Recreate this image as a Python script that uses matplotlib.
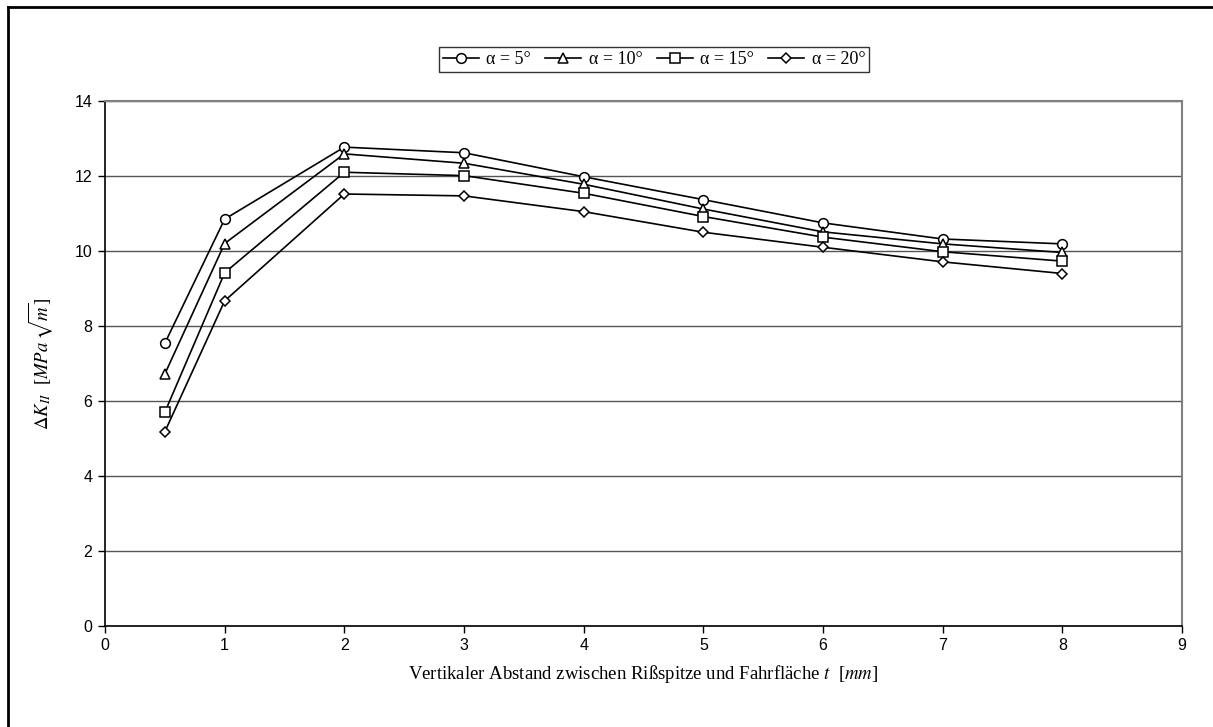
import matplotlib
matplotlib.use("Agg")
import matplotlib.pyplot as plt
from matplotlib.lines import Line2D

plt.rcParams['mathtext.fontset'] = 'stix'

t = [0.5, 1, 2, 3, 4, 5, 6, 7, 8]
k_5 = [7.54, 10.85, 12.77, 12.62, 11.98, 11.37, 10.75, 10.32, 10.19]
k_10 = [6.72, 10.20, 12.59, 12.34, 11.78, 11.12, 10.51, 10.19, 9.96]
k_15 = [5.70, 9.42, 12.10, 12.01, 11.54, 10.92, 10.37, 9.98, 9.73]
k_20 = [5.18, 8.67, 11.52, 11.47, 11.05, 10.50, 10.10, 9.71, 9.40]
labels = ['α = 5°', 'α = 10°', 'α = 15°', 'α = 20°']
markers = ['o', '^', 's', 'D']
msizes = [7, 7, 7, 5]

W, H = 1213, 727
fig = plt.figure(figsize=(W / 100, H / 100), dpi=100)
fig.patch.set_facecolor('white')

ax = fig.add_axes([105 / W, 1 - 626 / H, (1182 - 105) / W, (626 - 101) / H])

for ys, lab, m, ms in zip([k_5, k_10, k_15, k_20], labels, markers, msizes):
    ax.plot(t, ys, color='black', lw=1.2, marker=m, markersize=ms,
            markerfacecolor='white', markeredgecolor='black', markeredgewidth=1.1,
            label=lab)

ax.set_xlim(0, 9)
ax.set_ylim(0, 14)
ax.set_xticks(range(0, 10))
ax.set_yticks(range(0, 15, 2))
ax.yaxis.grid(True, color='#555555', lw=1.0)
ax.set_axisbelow(True)
for s in ['top', 'right']:
    ax.spines[s].set_color('#808080')
    ax.spines[s].set_linewidth(1.5)
for s in ['left', 'bottom']:
    ax.spines[s].set_color('black')
    ax.spines[s].set_linewidth(1.2)
ax.tick_params(direction='out', length=5, width=1, colors='black',
               labelsize=11.5, pad=4)
for lbl in ax.get_xticklabels() + ax.get_yticklabels():
    lbl.set_fontfamily('Liberation Sans')

ax.set_xlabel(r'Vertikaler Abstand zwischen Rißspitze und Fahrfläche $t$  [$mm$]',
              fontfamily='Liberation Serif', fontsize=13.5, labelpad=7)
ax.set_ylabel(r'$\Delta K_{II}$  [$MPa\,\sqrt{m}$]',
              fontfamily='Liberation Serif', fontsize=13.5, labelpad=14)

leg = fig.legend(loc='center', bbox_to_anchor=(654 / W, 1 - 59.5 / H), ncol=4,
                 frameon=True, fancybox=False, edgecolor='black',
                 prop={'family': 'Liberation Serif', 'size': 13},
                 handlelength=2.0, columnspacing=0.8, handletextpad=0.4,
                 borderpad=0.2, borderaxespad=0)
leg.get_frame().set_linewidth(1.0)

fig.add_artist(Line2D([8 / W, 8 / W], [0, 1 - 7 / H], transform=fig.transFigure,
                      color='black', lw=2))
fig.add_artist(Line2D([8 / W, 1], [1 - 7 / H, 1 - 7 / H], transform=fig.transFigure,
                      color='black', lw=2))

fig.savefig('out.png', dpi=100)
